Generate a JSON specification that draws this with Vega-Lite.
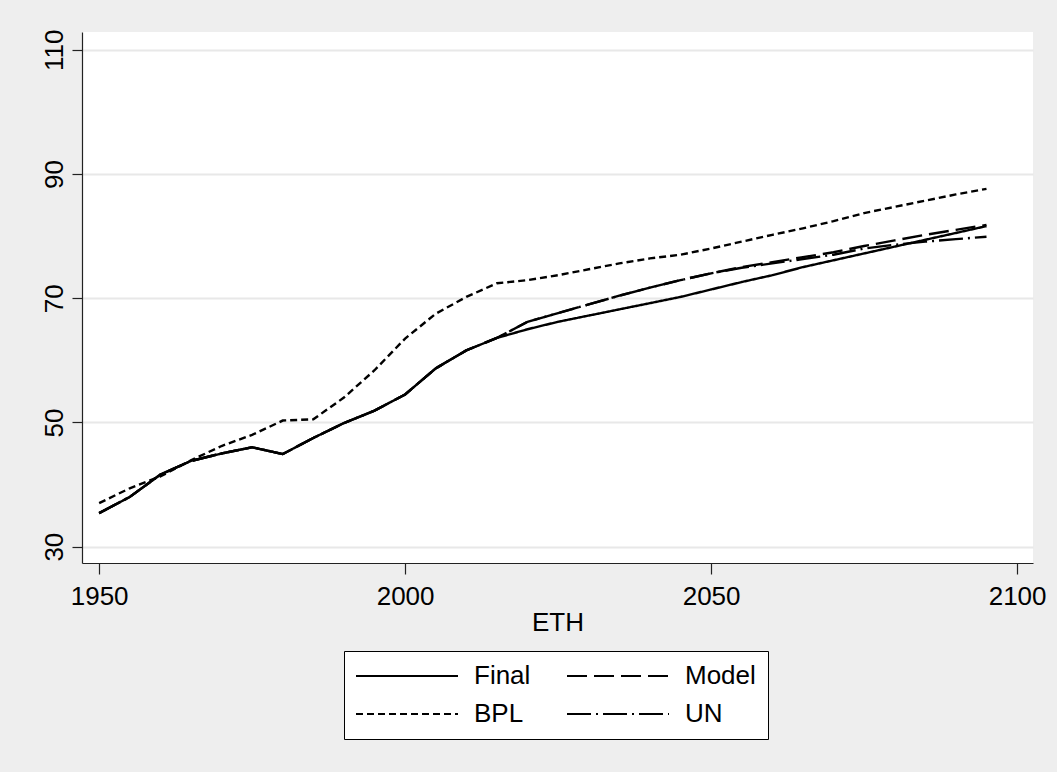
{
  "$schema": "https://vega.github.io/schema/vega-lite/v6.json",
  "width": 951,
  "height": 531,
  "autosize": {"type": "none"},
  "padding": {"left": 82, "top": 32, "right": 24, "bottom": 209},
  "background": "#eeeeee",
  "config": {
    "view": {"fill": "white", "stroke": null},
    "font": "Liberation Sans",
    "axis": {
      "domainColor": "#222222",
      "tickColor": "#222222",
      "domainWidth": 1.2,
      "tickWidth": 1.2,
      "labelFontSize": 26,
      "labelColor": "black",
      "labelFont": "Liberation Sans",
      "titleFont": "Liberation Sans",
      "titleFontSize": 26,
      "titleFontWeight": "normal",
      "titleColor": "black",
      "gridColor": "#e8e8e8",
      "gridWidth": 2,
      "labelFlush": false,
      "labelOverlap": false
    }
  },
  "data": {
    "values": [
      {"year": 1950, "Final": 35.4, "Model": 35.4, "BPL": 37.0, "UN": 35.4},
      {"year": 1955, "Final": 38.0, "Model": 38.0, "BPL": 39.4, "UN": 38.0},
      {"year": 1960, "Final": 41.6, "Model": 41.6, "BPL": 41.3, "UN": 41.6},
      {"year": 1965, "Final": 43.8, "Model": 43.8, "BPL": 43.9, "UN": 43.8},
      {"year": 1970, "Final": 45.0, "Model": 45.0, "BPL": 46.2, "UN": 45.0},
      {"year": 1975, "Final": 46.0, "Model": 46.0, "BPL": 48.0, "UN": 46.0},
      {"year": 1980, "Final": 44.9, "Model": 44.9, "BPL": 50.3, "UN": 44.9},
      {"year": 1985, "Final": 47.5, "Model": 47.5, "BPL": 50.5, "UN": 47.5},
      {"year": 1990, "Final": 49.9, "Model": 49.9, "BPL": 54.0, "UN": 49.9},
      {"year": 1995, "Final": 51.9, "Model": 51.9, "BPL": 58.4, "UN": 51.9},
      {"year": 2000, "Final": 54.5, "Model": 54.5, "BPL": 63.5, "UN": 54.5},
      {"year": 2005, "Final": 58.7, "Model": 58.7, "BPL": 67.5, "UN": 58.7},
      {"year": 2010, "Final": 61.6, "Model": 61.6, "BPL": 70.2, "UN": 61.6},
      {"year": 2015, "Final": 63.6, "Model": 63.6, "BPL": 72.4, "UN": 63.6},
      {"year": 2020, "Final": 65.0, "Model": 66.2, "BPL": 72.9, "UN": 66.2},
      {"year": 2025, "Final": 66.2, "Model": 67.6, "BPL": 73.7, "UN": 67.6},
      {"year": 2030, "Final": 67.2, "Model": 69.0, "BPL": 74.65, "UN": 69.0},
      {"year": 2035, "Final": 68.2, "Model": 70.4, "BPL": 75.6, "UN": 70.4},
      {"year": 2040, "Final": 69.2, "Model": 71.7, "BPL": 76.4, "UN": 71.7},
      {"year": 2045, "Final": 70.2, "Model": 72.9, "BPL": 77.0, "UN": 72.9},
      {"year": 2050, "Final": 71.4, "Model": 74.0, "BPL": 78.0, "UN": 74.0},
      {"year": 2055, "Final": 72.6, "Model": 75.0, "BPL": 79.1, "UN": 74.9},
      {"year": 2060, "Final": 73.7, "Model": 75.8, "BPL": 80.2, "UN": 75.6},
      {"year": 2065, "Final": 75.0, "Model": 76.6, "BPL": 81.25, "UN": 76.3},
      {"year": 2070, "Final": 76.1, "Model": 77.4, "BPL": 82.4, "UN": 77.0},
      {"year": 2075, "Final": 77.2, "Model": 78.4, "BPL": 83.7, "UN": 78.0},
      {"year": 2080, "Final": 78.3, "Model": 79.3, "BPL": 84.7, "UN": 78.6},
      {"year": 2085, "Final": 79.4, "Model": 80.2, "BPL": 85.7, "UN": 79.1},
      {"year": 2090, "Final": 80.5, "Model": 81.0, "BPL": 86.7, "UN": 79.5},
      {"year": 2095, "Final": 81.6, "Model": 81.8, "BPL": 87.6, "UN": 79.9}
    ]
  },
  "transform": [
    {"fold": ["Final", "Model", "BPL", "UN"], "as": ["series", "value"]}
  ],
  "mark": {"type": "line", "strokeWidth": 2.4, "color": "black", "strokeCap": "butt", "strokeJoin": "miter"},
  "encoding": {
    "x": {
      "field": "year",
      "type": "quantitative",
      "scale": {"domain": [1947.2, 2102.6], "nice": false, "zero": false},
      "axis": {
        "values": [1950, 2000, 2050, 2100],
        "format": "d",
        "title": "ETH",
        "grid": false,
        "tickSize": 11,
        "labelPadding": 9,
        "titlePadding": 0
      }
    },
    "y": {
      "field": "value",
      "type": "quantitative",
      "scale": {"domain": [27.37, 112.85], "nice": false, "zero": false},
      "axis": {
        "values": [30, 50, 70, 90, 110],
        "title": null,
        "grid": true,
        "tickSize": 10,
        "labelAngle": 270,
        "labelAlign": "center",
        "labelBaseline": "alphabetic",
        "labelPadding": 10
      }
    },
    "strokeDash": {
      "field": "series",
      "type": "nominal",
      "scale": {
        "domain": ["Final", "BPL", "Model", "UN"],
        "range": [[1, 0], [7, 4], [20, 7], [24, 5, 2, 5]]
      },
      "legend": {
        "orient": "none",
        "legendX": 262,
        "legendY": 619,
        "columns": 2,
        "title": null,
        "symbolType": "M-5.1,0H5.1",
        "symbolSize": 400,
        "symbolOffset": 38,
        "labelOffset": 54,
        "columnPadding": 32,
        "rowPadding": 12,
        "padding": 12,
        "fillColor": "white",
        "strokeColor": "black",
        "labelFontSize": 26,
        "labelColor": "black",
        "labelFont": "Liberation Sans",
        "symbolStrokeWidth": 2,
        "symbolStrokeColor": "black",
        "labelLimit": 300
      }
    }
  }
}
